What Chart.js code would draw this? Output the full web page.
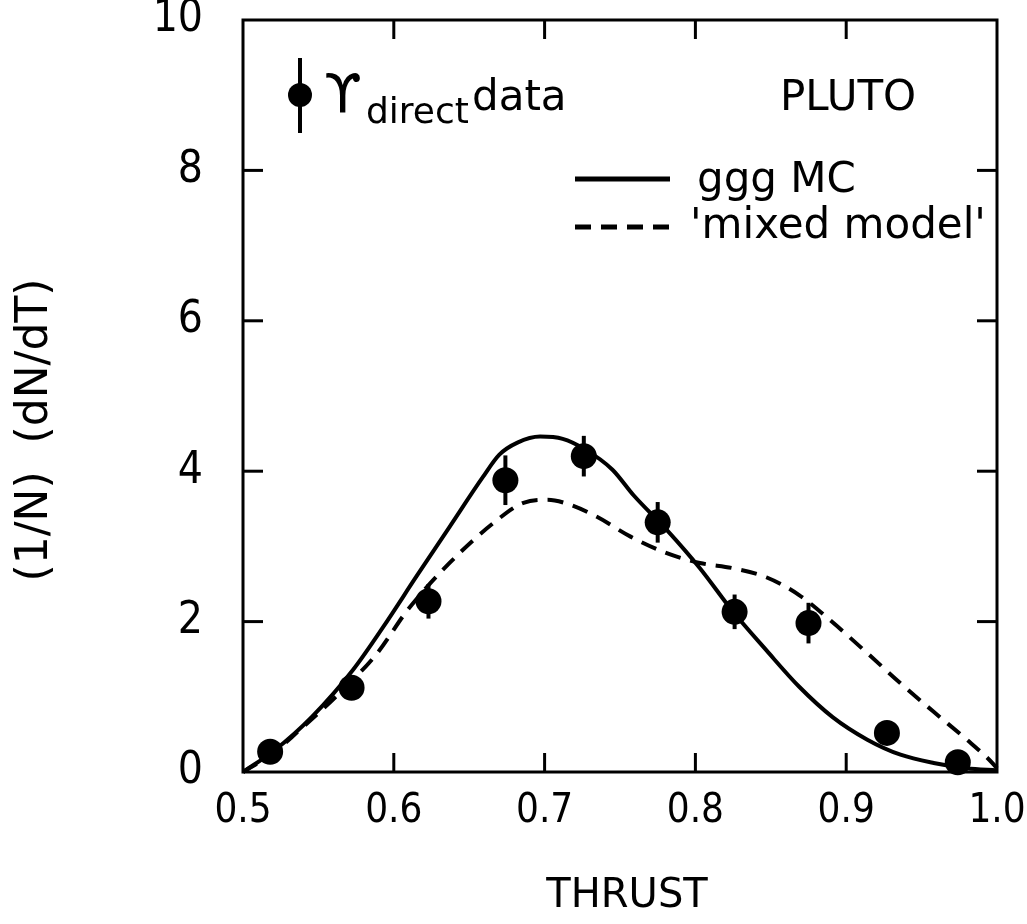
<!DOCTYPE html>
<html>
<head>
<meta charset="utf-8">
<script src="https://cdn.jsdelivr.net/npm/chart.js@4/dist/chart.umd.min.js"></script>
<style>
  body { margin: 0; background: #fff; }
  #wrap { width: 1027px; height: 924px; }
</style>
</head>
<body>
<div id="wrap"><canvas id="c"></canvas></div>
<script>
// Upsilon direct data points (thrust, 1/N dN/dT, error)
const dataThrust = [0.518, 0.572, 0.623, 0.674, 0.726, 0.775, 0.826, 0.875, 0.927, 0.974];
const dataValues = [0.27, 1.12, 2.27, 3.88, 4.20, 3.32, 2.13, 1.98, 0.52, 0.13];
const dataErrors = [0.08, 0.1, 0.23, 0.33, 0.27, 0.27, 0.23, 0.27, 0.1, 0.08];

// ggg MC curve
const gggThrust = [0.5, 0.521, 0.546, 0.573, 0.593, 0.615, 0.637, 0.659, 0.670, 0.682, 0.697, 0.712, 0.726, 0.745, 0.759, 0.781, 0.803, 0.825, 0.847, 0.869, 0.891, 0.914, 0.936, 0.958, 0.980, 1.0];
const gggValues = [0.0, 0.29, 0.74, 1.36, 1.93, 2.60, 3.26, 3.92, 4.22, 4.38, 4.46, 4.43, 4.30, 4.02, 3.68, 3.22, 2.71, 2.13, 1.62, 1.13, 0.73, 0.43, 0.23, 0.12, 0.05, 0.02];

// 'mixed model' curve
const mixedThrust = [0.5, 0.52, 0.536, 0.564, 0.589, 0.609, 0.637, 0.666, 0.686, 0.702, 0.716, 0.735, 0.757, 0.781, 0.803, 0.825, 0.847, 0.869, 0.891, 0.914, 0.936, 0.958, 0.980, 0.995, 1.0];
const mixedValues = [0.0, 0.25, 0.53, 1.05, 1.58, 2.15, 2.78, 3.31, 3.58, 3.62, 3.56, 3.39, 3.13, 2.91, 2.78, 2.71, 2.59, 2.35, 1.99, 1.58, 1.18, 0.80, 0.43, 0.16, 0.05];

const xTicks = [0.5, 0.6, 0.7, 0.8, 0.9, 1.0];
const yTicks = [0, 2, 4, 6, 8, 10];

const tickFont = "'Liberation Sans Narrow', 'DejaVu Sans Condensed', 'DejaVu Sans', sans-serif";
const textFont = "'DejaVu Sans', sans-serif";

function pts(xs, ys) {
  return xs.map((v, i) => ({ x: v, y: ys[i] }));
}

function line(ctx, x1, y1, x2, y2) {
  ctx.beginPath();
  ctx.moveTo(x1, y1);
  ctx.lineTo(x2, y2);
  ctx.stroke();
}

const frame = {
  id: 'frame',
  afterDatasetsDraw(chart) {
    const { ctx, chartArea: a, scales: { x, y } } = chart;
    ctx.save();
    ctx.strokeStyle = '#000';
    ctx.fillStyle = '#000';
    ctx.lineWidth = 3;
    ctx.strokeRect(a.left, a.top, a.right - a.left, a.bottom - a.top);

    // inward ticks on all four sides
    xTicks.slice(1, -1).forEach(v => {
      const px = x.getPixelForValue(v);
      line(ctx, px, a.bottom, px, a.bottom - 19);
      line(ctx, px, a.top, px, a.top + 19);
    });
    yTicks.slice(1, -1).forEach(v => {
      const py = y.getPixelForValue(v);
      line(ctx, a.left, py, a.left + 20, py);
      line(ctx, a.right, py, a.right - 20, py);
    });

    // error bars
    ctx.lineWidth = 4;
    dataThrust.forEach((t, i) => {
      const px = x.getPixelForValue(t);
      line(ctx, px, y.getPixelForValue(dataValues[i] - dataErrors[i]),
               px, y.getPixelForValue(dataValues[i] + dataErrors[i]));
    });

    // legend
    ctx.beginPath();
    ctx.arc(300, 95, 12, 0, Math.PI * 2);
    ctx.fill();
    line(ctx, 300, 58, 300, 133);
    ctx.textBaseline = 'alphabetic';
    ctx.textAlign = 'left';
    ctx.font = '54px ' + textFont;
    ctx.fillText('\u03D2', 324, 112);
    ctx.font = '36px ' + textFont;
    ctx.fillText('direct', 366, 123);
    ctx.font = '42px ' + textFont;
    ctx.fillText('data', 472, 110);
    ctx.fillText('PLUTO', 780, 110);
    ctx.fillText('ggg MC', 697, 192);
    ctx.fillText("'mixed model'", 690, 238);

    ctx.lineWidth = 5;
    line(ctx, 575, 179, 670, 179);
    ctx.setLineDash([16, 10]);
    line(ctx, 575, 227, 670, 227);
    ctx.setLineDash([]);

    // axis titles
    ctx.font = '40px ' + textFont;
    ctx.textAlign = 'center';
    ctx.textBaseline = 'middle';
    ctx.fillText('THRUST', 627, 897);
    ctx.font = '44px ' + textFont;
    ctx.translate(36, 430);
    ctx.rotate(-Math.PI / 2);
    ctx.fillText('(1/N)  (dN/dT)', 0, 0);
    ctx.restore();
  }
};

new Chart(document.getElementById('c'), {
  type: 'scatter',
  data: {
    datasets: [
      {
        label: 'ggg MC',
        data: pts(gggThrust, gggValues),
        showLine: true,
        borderColor: '#000',
        borderWidth: 4,
        pointRadius: 0,
        cubicInterpolationMode: 'monotone',
        clip: false
      },
      {
        label: "'mixed model'",
        data: pts(mixedThrust, mixedValues),
        showLine: true,
        borderColor: '#000',
        borderWidth: 4,
        borderDash: [16, 10],
        pointRadius: 0,
        cubicInterpolationMode: 'monotone',
        clip: false
      },
      {
        label: 'data',
        data: pts(dataThrust, dataValues),
        pointRadius: 13,
        pointBackgroundColor: '#000',
        pointBorderColor: '#000',
        pointBorderWidth: 0,
        clip: false
      }
    ]
  },
  options: {
    responsive: true,
    maintainAspectRatio: false,
    animation: false,
    layout: { padding: { top: 20, right: 30, left: 0, bottom: 0 } },
    plugins: { legend: { display: false }, tooltip: { enabled: false } },
    scales: {
      x: {
        type: 'linear',
        min: 0.5,
        max: 1.0,
        afterBuildTicks: s => { s.ticks = xTicks.map(v => ({ value: v })); },
        afterFit: s => { s.height = 152; s.paddingLeft = 0; s.paddingRight = 0; },
        grid: { display: false, drawTicks: false },
        border: { display: false },
        ticks: {
          color: '#000',
          padding: 20,
          font: { family: tickFont, size: 40, lineHeight: 1 },
          callback: v => v.toFixed(1)
        }
      },
      y: {
        type: 'linear',
        min: 0,
        max: 10,
        afterBuildTicks: s => { s.ticks = yTicks.map(v => ({ value: v })); },
        afterFit: s => { s.width = 243; s.paddingTop = 0; s.paddingBottom = 0; },
        grid: { display: false, drawTicks: false },
        border: { display: false },
        ticks: {
          color: '#000',
          padding: 40,
          font: { family: tickFont, size: 44, lineHeight: 1 },
          callback: v => String(v)
        }
      }
    }
  },
  plugins: [frame]
});
</script>
</body>
</html>
